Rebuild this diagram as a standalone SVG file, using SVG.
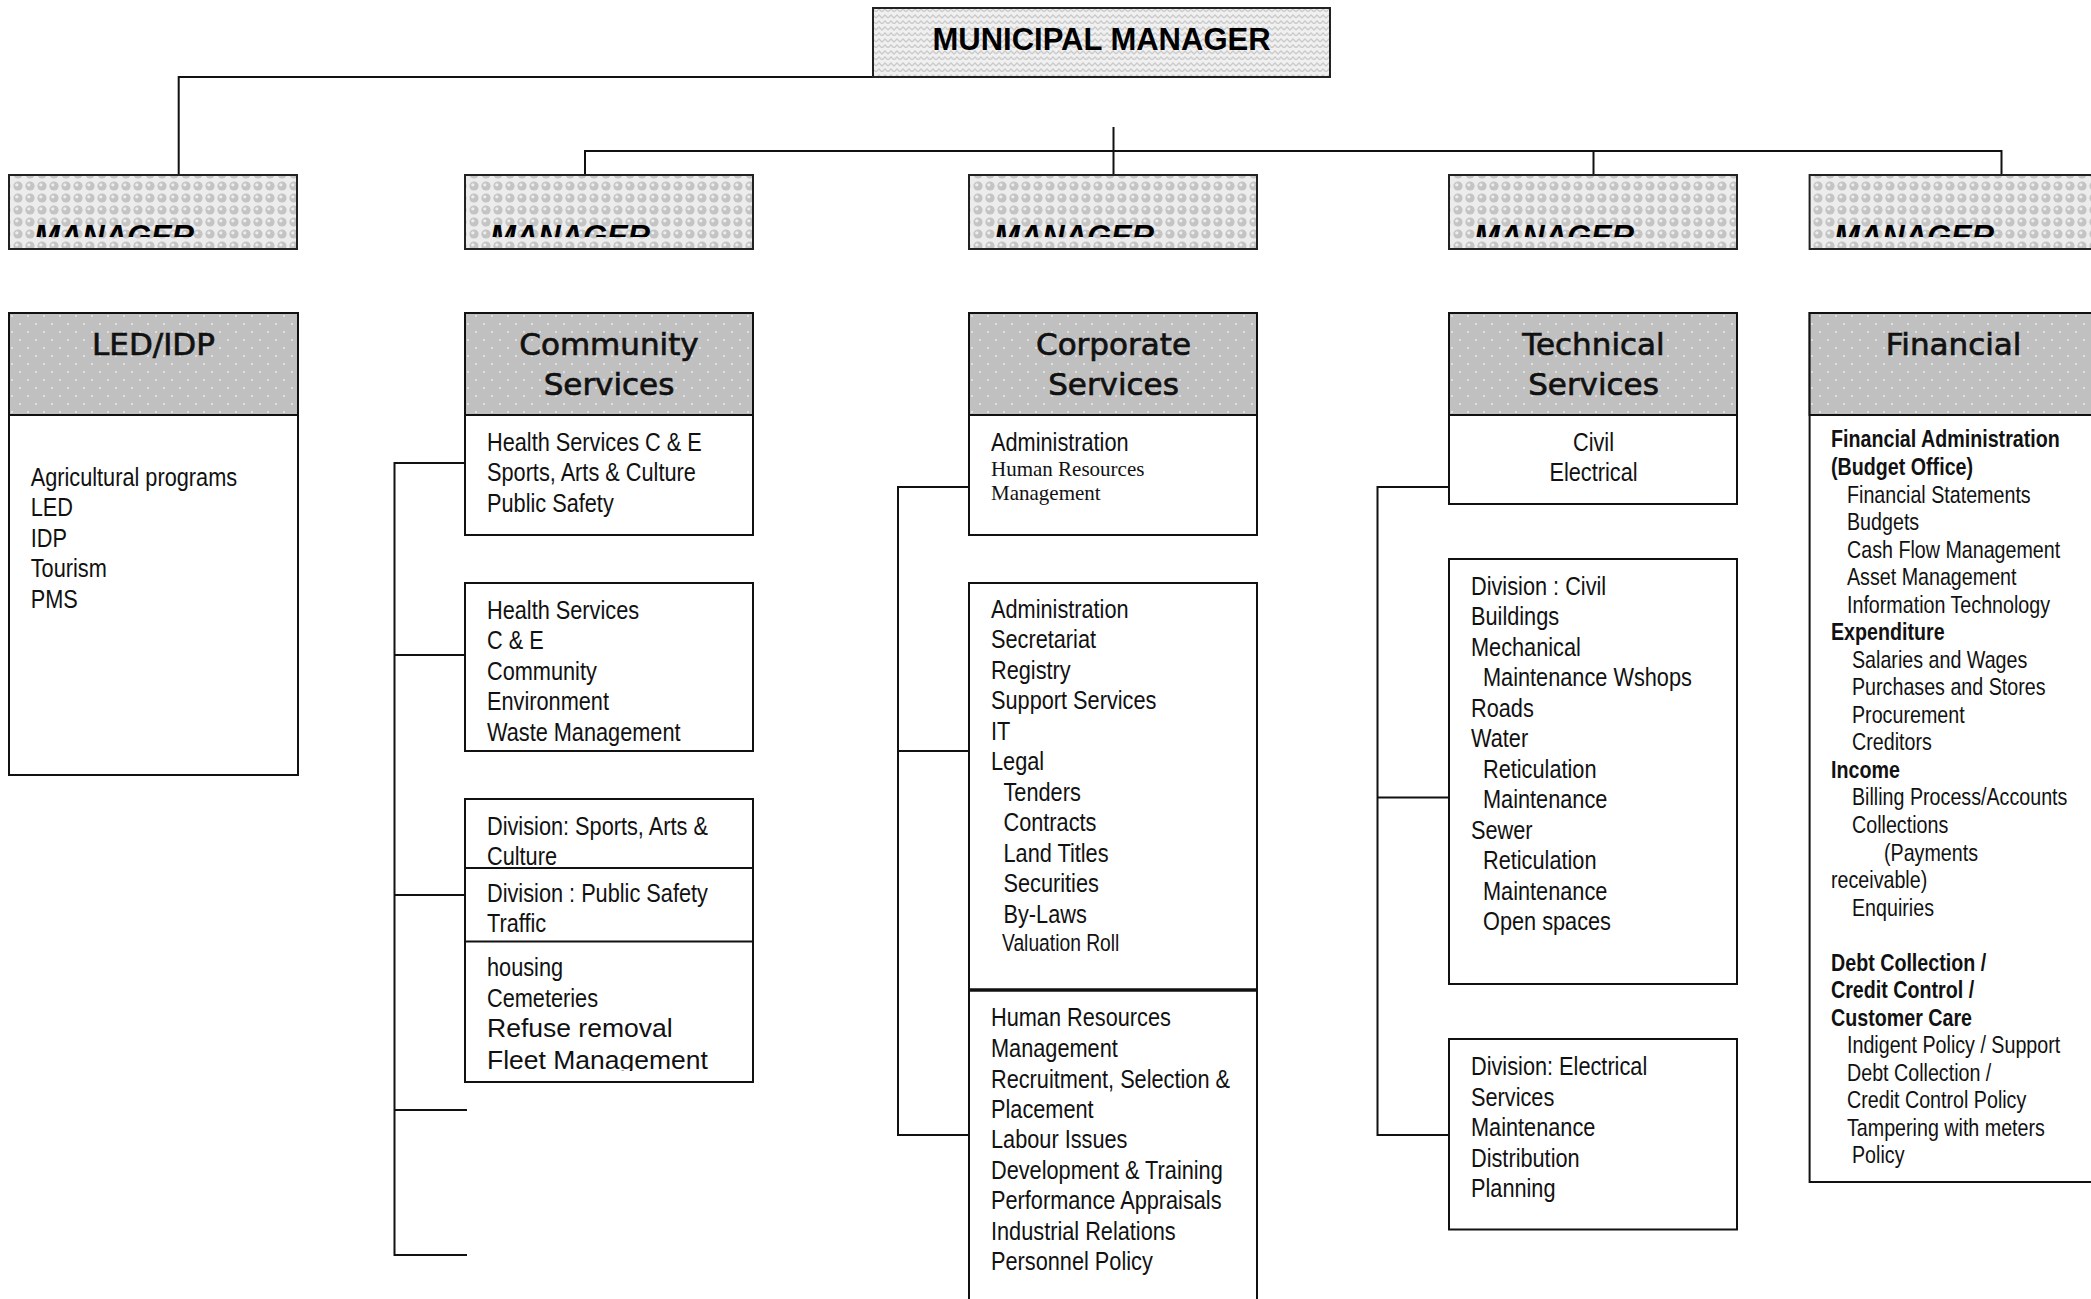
<svg xmlns="http://www.w3.org/2000/svg" width="2091" height="1299" viewBox="0 0 2091 1299">
<defs>
<pattern id="weave" width="12" height="12" patternUnits="userSpaceOnUse">
<rect width="12" height="12" fill="#f0f0f0"/>
<path d="M0 6 L3 3 L6 6 L9 3 L12 6 M0 12 L3 9 L6 12 L9 9 L12 12" stroke="#cacaca" stroke-width="1.3" fill="none"/>
</pattern>
<pattern id="bubbles" width="12" height="12" patternUnits="userSpaceOnUse">
<rect width="12" height="12" fill="#ececec"/>
<circle cx="6" cy="6" r="4.6" fill="#c4c4c4"/>
<circle cx="4.8" cy="4.8" r="1.6" fill="#eeeeee"/>
</pattern>
<pattern id="dots" width="16" height="16" patternUnits="userSpaceOnUse">
<rect width="16" height="16" fill="#c0c0c0"/>
<circle cx="4" cy="4" r="0.9" fill="#ededed"/>
<circle cx="12" cy="12" r="0.9" fill="#ededed"/>
</pattern>
<clipPath id="mclip"><rect x="0" y="175" width="2091" height="62"/></clipPath>
<clipPath id="cbclip"><rect x="465" y="583" width="288" height="163"/></clipPath>
<clipPath id="ccclip"><rect x="465" y="941" width="288" height="130"/></clipPath>
</defs>
<style>
.box{fill:#fff;stroke:#111;stroke-width:2}
.hdr{fill:url(#dots);stroke:#111;stroke-width:2}
.mgr{fill:url(#bubbles);stroke:#222;stroke-width:2}
.mm{fill:url(#weave);stroke:#222;stroke-width:2}
.ttl{font-family:"DejaVu Sans",sans-serif;font-size:31px;text-anchor:middle;fill:#111;stroke:#111;stroke-width:0.7}
.t{font-family:"Liberation Sans",Arial,sans-serif;font-size:26.5px;fill:#111}
.f{font-family:"Liberation Sans",Arial,sans-serif;font-size:24px;fill:#111}
.b{font-weight:bold}
.ser{font-family:"Liberation Serif",serif;font-size:21px;fill:#111}
.ar{font-family:"Liberation Sans",Arial,sans-serif;font-size:26.5px;fill:#111}
.mt{font-family:"Liberation Sans",Arial,sans-serif;font-size:31px;font-weight:bold;font-style:italic;fill:#000}
.line{stroke:#111;stroke-width:2;fill:none}
</style>
<rect width="2091" height="1299" fill="#fff"/>

<g id="connectors">
<path class="line" d="M178.7 175 V77 H873"/>
<path class="line" d="M1113.5 127 V175"/>
<path class="line" d="M585 175 V151 H2001.5 V175"/>
<path class="line" d="M1593.5 151 V175"/>
<path class="line" d="M465 463 H394.5 V1255 H467"/>
<path class="line" d="M394.5 655 H465 M394.5 895 H465 M394.5 1110 H467"/>
<path class="line" d="M969 487 H898 V1135 H969 M898 751 H969"/>
<path class="line" d="M1449 487 H1377.5 V1135 H1449 M1377.5 797.5 H1449"/>
</g>

<g id="municipal-manager">
<rect class="mm" x="873" y="8" width="457" height="69"/>
<text x="1101.5" y="49.5" text-anchor="middle" style="font-family:'Liberation Sans',Arial,sans-serif;font-size:31px;font-weight:bold;fill:#000">MUNICIPAL MANAGER</text>
</g>

<g id="manager-led">
<rect class="mgr" x="9" y="175" width="288" height="74"/>
<text class="mt" x="34" y="247" clip-path="url(#mclip)">MANAGER</text>
</g>
<g id="manager-community">
<rect class="mgr" x="465" y="175" width="288" height="74"/>
<text class="mt" x="490" y="247" clip-path="url(#mclip)">MANAGER</text>
</g>
<g id="manager-corporate">
<rect class="mgr" x="969" y="175" width="288" height="74"/>
<text class="mt" x="994" y="247" clip-path="url(#mclip)">MANAGER</text>
</g>
<g id="manager-technical">
<rect class="mgr" x="1449" y="175" width="288" height="74"/>
<text class="mt" x="1474" y="247" clip-path="url(#mclip)">MANAGER</text>
</g>
<g id="manager-financial">
<rect class="mgr" x="1809.6" y="175" width="288" height="74"/>
<text class="mt" x="1834" y="247" clip-path="url(#mclip)">MANAGER</text>
</g>

<g id="led-idp">
<rect class="box" x="9" y="313" width="289" height="462"/>
<rect class="hdr" x="9" y="313" width="289" height="102"/>
<text class="ttl" x="153.5" y="355">LED/IDP</text>
<text class="t" transform="matrix(.82 0 0 1 30.7 0)" y="486">Agricultural programs</text>
<text class="t" transform="matrix(.82 0 0 1 30.7 0)" y="516.5">LED</text>
<text class="t" transform="matrix(.82 0 0 1 30.7 0)" y="547">IDP</text>
<text class="t" transform="matrix(.82 0 0 1 30.7 0)" y="577.5">Tourism</text>
<text class="t" transform="matrix(.82 0 0 1 30.7 0)" y="608">PMS</text>
</g>

<g id="community-services">
<rect class="box" x="465" y="313" width="288" height="222"/>
<rect class="hdr" x="465" y="313" width="288" height="102"/>
<text class="ttl" x="609" y="355">Community</text>
<text class="ttl" x="609" y="395">Services</text>
<text class="t" transform="matrix(.82 0 0 1 487 0)" y="451">Health Services C &amp; E</text>
<text class="t" transform="matrix(.82 0 0 1 487 0)" y="481.5">Sports, Arts &amp; Culture</text>
<text class="t" transform="matrix(.82 0 0 1 487 0)" y="512">Public Safety</text>
</g>
<g id="community-health">
<rect class="box" x="465" y="583" width="288" height="168"/>
<g clip-path="url(#cbclip)">
<text class="t" transform="matrix(.82 0 0 1 487 0)" y="619">Health Services</text>
<text class="t" transform="matrix(.82 0 0 1 487 0)" y="649.5">C &amp; E</text>
<text class="t" transform="matrix(.82 0 0 1 487 0)" y="680">Community</text>
<text class="t" transform="matrix(.82 0 0 1 487 0)" y="710.5">Environment</text>
<text class="t" transform="matrix(.82 0 0 1 487 0)" y="741">Waste Management</text>
</g>
</g>
<g id="community-divisions">
<rect class="box" x="465" y="799" width="288" height="283"/>
<line class="line" x1="465" y1="868" x2="753" y2="868"/>
<line class="line" x1="465" y1="941.5" x2="753" y2="941.5"/>
<text class="t" transform="matrix(.82 0 0 1 487 0)" y="835">Division: Sports, Arts &amp;</text>
<text class="t" transform="matrix(.82 0 0 1 487 0)" y="865">Culture</text>
<text class="t" transform="matrix(.82 0 0 1 487 0)" y="902">Division : Public Safety</text>
<text class="t" transform="matrix(.82 0 0 1 487 0)" y="932">Traffic</text>
<g clip-path="url(#ccclip)">
<text class="t" transform="matrix(.82 0 0 1 487 0)" y="976">housing</text>
<text class="t" transform="matrix(.82 0 0 1 487 0)" y="1007">Cemeteries</text>
<text class="ar" x="487" y="1037">Refuse removal</text>
<text class="ar" x="487" y="1069">Fleet Management</text>
</g>
</g>

<g id="corporate-services">
<rect class="box" x="969" y="313" width="288" height="222"/>
<rect class="hdr" x="969" y="313" width="288" height="102"/>
<text class="ttl" x="1113.5" y="355">Corporate</text>
<text class="ttl" x="1113.5" y="395">Services</text>
<text class="t" transform="matrix(.82 0 0 1 991 0)" y="451.5">Administration</text>
<text class="ser" x="991" y="476">Human Resources</text>
<text class="ser" x="991" y="500">Management</text>
</g>
<g id="corporate-admin">
<rect class="box" x="969" y="583" width="288" height="407"/>
<text class="t" transform="matrix(.82 0 0 1 991 0)" y="618">Administration</text>
<text class="t" transform="matrix(.82 0 0 1 991 0)" y="648.5">Secretariat</text>
<text class="t" transform="matrix(.82 0 0 1 991 0)" y="679">Registry</text>
<text class="t" transform="matrix(.82 0 0 1 991 0)" y="709.5">Support Services</text>
<text class="t" transform="matrix(.82 0 0 1 991 0)" y="740">IT</text>
<text class="t" transform="matrix(.82 0 0 1 991 0)" y="770.5">Legal</text>
<text class="t" transform="matrix(.82 0 0 1 1003.5 0)" y="801">Tenders</text>
<text class="t" transform="matrix(.82 0 0 1 1003.5 0)" y="831.5">Contracts</text>
<text class="t" transform="matrix(.82 0 0 1 1003.5 0)" y="862">Land Titles</text>
<text class="t" transform="matrix(.82 0 0 1 1003.5 0)" y="892.5">Securities</text>
<text class="t" transform="matrix(.82 0 0 1 1003.5 0)" y="923">By-Laws</text>
<text class="t" transform="matrix(.82 0 0 1 1002 0)" y="951.5" style="font-size:23.5px">Valuation Roll</text>
</g>
<g id="corporate-hr">
<rect class="box" x="969" y="990" width="288" height="330"/>
<line x1="969" y1="990" x2="1257" y2="990" stroke="#111" stroke-width="3.5"/>
<text class="t" transform="matrix(.82 0 0 1 991 0)" y="1026.5">Human Resources</text>
<text class="t" transform="matrix(.82 0 0 1 991 0)" y="1057">Management</text>
<text class="t" transform="matrix(.82 0 0 1 991 0)" y="1087.5">Recruitment, Selection &amp;</text>
<text class="t" transform="matrix(.82 0 0 1 991 0)" y="1118">Placement</text>
<text class="t" transform="matrix(.82 0 0 1 991 0)" y="1148.5">Labour Issues</text>
<text class="t" transform="matrix(.82 0 0 1 991 0)" y="1179">Development &amp; Training</text>
<text class="t" transform="matrix(.82 0 0 1 991 0)" y="1209.5">Performance Appraisals</text>
<text class="t" transform="matrix(.82 0 0 1 991 0)" y="1240">Industrial Relations</text>
<text class="t" transform="matrix(.82 0 0 1 991 0)" y="1270.5">Personnel Policy</text>
</g>

<g id="technical-services">
<rect class="box" x="1449" y="313" width="288" height="191"/>
<rect class="hdr" x="1449" y="313" width="288" height="102"/>
<text class="ttl" x="1593.5" y="355">Technical</text>
<text class="ttl" x="1593.5" y="395">Services</text>
<text class="t" transform="matrix(.82 0 0 1 1593.5 0)" y="451" text-anchor="middle">Civil</text>
<text class="t" transform="matrix(.82 0 0 1 1593.5 0)" y="481.5" text-anchor="middle">Electrical</text>
</g>
<g id="technical-civil">
<rect class="box" x="1449" y="559" width="288" height="425"/>
<text class="t" transform="matrix(.82 0 0 1 1471 0)" y="595">Division : Civil</text>
<text class="t" transform="matrix(.82 0 0 1 1471 0)" y="625.5">Buildings</text>
<text class="t" transform="matrix(.82 0 0 1 1471 0)" y="656">Mechanical</text>
<text class="t" transform="matrix(.82 0 0 1 1483 0)" y="686.5">Maintenance Wshops</text>
<text class="t" transform="matrix(.82 0 0 1 1471 0)" y="717">Roads</text>
<text class="t" transform="matrix(.82 0 0 1 1471 0)" y="747.5">Water</text>
<text class="t" transform="matrix(.82 0 0 1 1483 0)" y="778">Reticulation</text>
<text class="t" transform="matrix(.82 0 0 1 1483 0)" y="808.5">Maintenance</text>
<text class="t" transform="matrix(.82 0 0 1 1471 0)" y="839">Sewer</text>
<text class="t" transform="matrix(.82 0 0 1 1483 0)" y="869.5">Reticulation</text>
<text class="t" transform="matrix(.82 0 0 1 1483 0)" y="900">Maintenance</text>
<text class="t" transform="matrix(.82 0 0 1 1483 0)" y="930.5">Open spaces</text>
</g>
<g id="technical-electrical">
<rect class="box" x="1449" y="1039" width="288" height="190.5"/>
<text class="t" transform="matrix(.82 0 0 1 1471 0)" y="1075.5">Division: Electrical</text>
<text class="t" transform="matrix(.82 0 0 1 1471 0)" y="1106">Services</text>
<text class="t" transform="matrix(.82 0 0 1 1471 0)" y="1136.5">Maintenance</text>
<text class="t" transform="matrix(.82 0 0 1 1471 0)" y="1167">Distribution</text>
<text class="t" transform="matrix(.82 0 0 1 1471 0)" y="1197.5">Planning</text>
</g>

<g id="financial">
<rect class="box" x="1809.6" y="313" width="288" height="869"/>
<rect class="hdr" x="1809.6" y="313" width="288" height="102"/>
<text class="ttl" x="1953.6" y="355">Financial</text>
<text class="f b" transform="matrix(.82 0 0 1 1831 0)" y="447.5">Financial Administration</text>
<text class="f b" transform="matrix(.82 0 0 1 1831 0)" y="475">(Budget Office)</text>
<text class="f" transform="matrix(.82 0 0 1 1847 0)" y="502.6">Financial Statements</text>
<text class="f" transform="matrix(.82 0 0 1 1847 0)" y="530.1">Budgets</text>
<text class="f" transform="matrix(.82 0 0 1 1847 0)" y="557.7">Cash Flow Management</text>
<text class="f" transform="matrix(.82 0 0 1 1847 0)" y="585.2">Asset Management</text>
<text class="f" transform="matrix(.82 0 0 1 1847 0)" y="612.7">Information Technology</text>
<text class="f b" transform="matrix(.82 0 0 1 1831 0)" y="640.3">Expenditure</text>
<text class="f" transform="matrix(.82 0 0 1 1852 0)" y="667.8">Salaries and Wages</text>
<text class="f" transform="matrix(.82 0 0 1 1852 0)" y="695.4">Purchases and Stores</text>
<text class="f" transform="matrix(.82 0 0 1 1852 0)" y="722.9">Procurement</text>
<text class="f" transform="matrix(.82 0 0 1 1852 0)" y="750.4">Creditors</text>
<text class="f b" transform="matrix(.82 0 0 1 1831 0)" y="778">Income</text>
<text class="f" transform="matrix(.82 0 0 1 1852 0)" y="805.5">Billing Process/Accounts</text>
<text class="f" transform="matrix(.82 0 0 1 1852 0)" y="833.1">Collections</text>
<text class="f" transform="matrix(.82 0 0 1 1884 0)" y="860.6">(Payments</text>
<text class="f" transform="matrix(.82 0 0 1 1831 0)" y="888.1">receivable)</text>
<text class="f" transform="matrix(.82 0 0 1 1852 0)" y="915.7">Enquiries</text>
<text class="f b" transform="matrix(.82 0 0 1 1831 0)" y="970.8">Debt Collection /</text>
<text class="f b" transform="matrix(.82 0 0 1 1831 0)" y="998.3">Credit Control /</text>
<text class="f b" transform="matrix(.82 0 0 1 1831 0)" y="1025.8">Customer Care</text>
<text class="f" transform="matrix(.82 0 0 1 1847 0)" y="1053.4">Indigent Policy / Support</text>
<text class="f" transform="matrix(.82 0 0 1 1847 0)" y="1080.9">Debt Collection /</text>
<text class="f" transform="matrix(.82 0 0 1 1847 0)" y="1108.5">Credit Control Policy</text>
<text class="f" transform="matrix(.82 0 0 1 1847 0)" y="1136">Tampering with meters</text>
<text class="f" transform="matrix(.82 0 0 1 1852 0)" y="1163.5">Policy</text>
</g>
</svg>
